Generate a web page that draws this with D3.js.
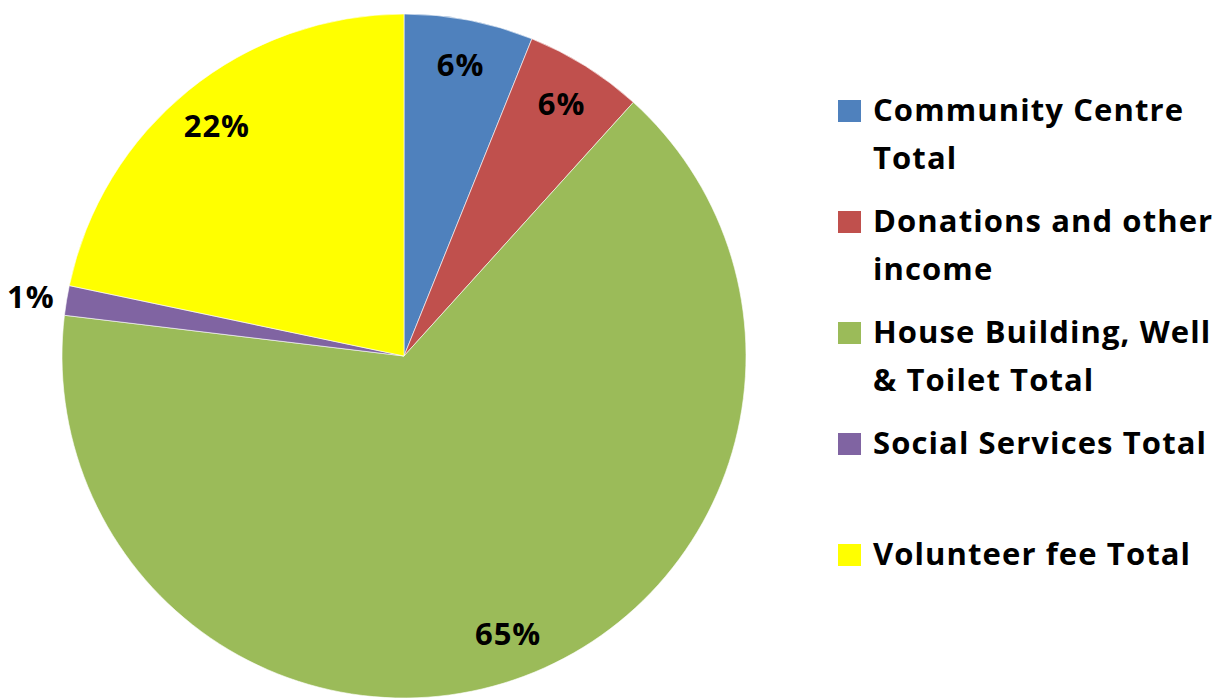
<!DOCTYPE html>
<html>
<head>
<meta charset="utf-8">
<script src="https://cdn.jsdelivr.net/npm/d3@7"></script>
<style>
  body { margin: 0; background: #fff; }
  svg text { font-family: "Open Sans", "Noto Sans", sans-serif; font-weight: 700; fill: #000; }
</style>
</head>
<body>
<div id="chart"></div>
<script>
// slice data (percent of total)
const categories = [
  "Community Centre Total",
  "Donations and other income",
  "House Building, Well & Toilet Total",
  "Social Services Total",
  "Volunteer fee Total"
];
const values = [6.1, 5.6, 65.2, 1.4, 21.7];
const labels = ["6%", "6%", "65%", "1%", "22%"];
// legend text broken the way the original wraps it
const legendLines = [
  ["Community Centre", "Total"],
  ["Donations and other", "income"],
  ["House Building, Well", "& Toilet Total"],
  ["Social Services Total", ""],
  ["Volunteer fee Total"]
];
const colors = ["#4F81BD", "#C0504D", "#9BBB59", "#8064A2", "#FFFF00"];

const width = 1221, height = 698;
const cx = 404, cy = 356, radius = 342;

const svg = d3.select('#chart').append('svg')
  .attr('width', width)
  .attr('height', height);

const data = categories.map((c, i) => ({ name: c, value: values[i], label: labels[i], color: colors[i] }));

const pie = d3.pie().sort(null).value(d => d.value);
const arcs = pie(data);

const arc = d3.arc().innerRadius(0).outerRadius(radius);
const labelArc = d3.arc().innerRadius(297).outerRadius(297);
const outerArc = d3.arc().innerRadius(radius + 4).outerRadius(radius + 4);

const g = svg.append('g').attr('transform', `translate(${cx},${cy})`);

g.selectAll('path')
  .data(arcs)
  .enter().append('path')
  .attr('d', arc)
  .attr('fill', d => d.data.color)
  .attr('stroke', '#fff')
  .attr('stroke-width', 0.6);

// tiny slices get their label outside, the rest inside
g.selectAll('text.lbl')
  .data(arcs)
  .enter().append('text')
  .attr('class', 'lbl')
  .style('font-size', '31px')
  .style('letter-spacing', '1px')
  .attr('dy', '0.36em')
  .each(function(d) {
    const small = (d.endAngle - d.startAngle) < 0.15;
    const t = d3.select(this);
    if (small) {
      const [x, y] = outerArc.centroid(d);
      t.attr('x', x - 8).attr('y', y - 3).attr('text-anchor', 'end');
    } else {
      const [x, y] = labelArc.centroid(d);
      t.attr('x', x).attr('y', y).attr('text-anchor', 'middle');
    }
  })
  .text(d => d.data.label);

// legend
const legend = svg.append('g').attr('transform', 'translate(838,121)');
const rowGap = 111, lineGap = 48;

const item = legend.selectAll('g')
  .data(data)
  .enter().append('g')
  .attr('transform', (d, i) => `translate(0,${i * rowGap})`);

item.append('rect')
  .attr('x', 0)
  .attr('y', -21)
  .attr('width', 23)
  .attr('height', 22)
  .attr('fill', d => d.color);

item.append('text')
  .attr('x', 35)
  .style('font-size', '31px')
  .style('letter-spacing', '1.1px')
  .selectAll('tspan')
  .data((d, i) => legendLines[i])
  .enter().append('tspan')
  .attr('x', 35)
  .attr('y', (d, j) => j * lineGap)
  .text(d => d);
</script>
</body>
</html>
